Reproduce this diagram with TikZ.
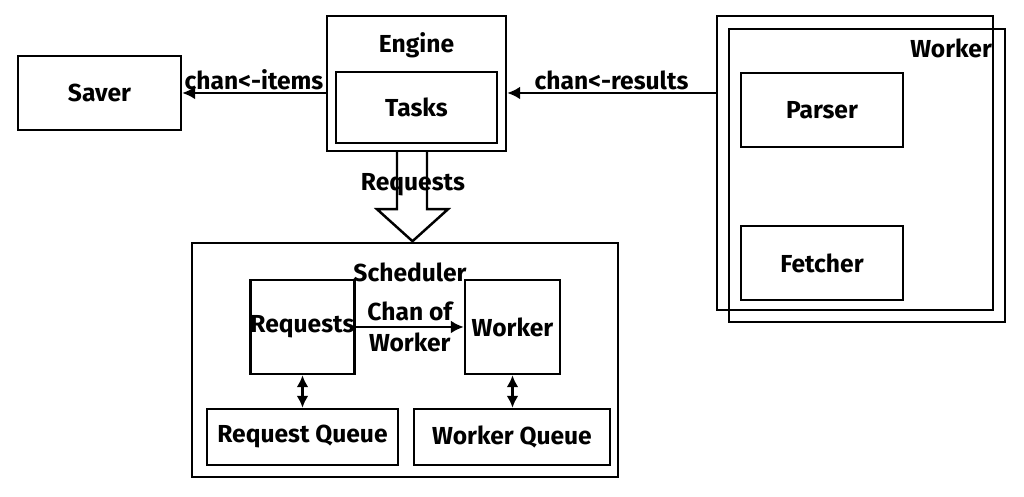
\documentclass[tikz,border=0pt]{standalone}
\usepackage{fontspec}
\setmainfont{Fira Sans}
\usetikzlibrary{arrows.meta, calc}

\begin{document}
\begin{tikzpicture}[
  box/.style={draw, line width=1.4pt, inner sep=0pt, font=\fontsize{14}{18}\selectfont\bfseries},
  lbl/.style={inner sep=1pt, font=\fontsize{14}{18}\selectfont\bfseries, align=center},
  arr/.style={-{Latex[length=2.6mm,width=2.6mm]}, line width=1.4pt},
  biarr/.style={{Latex[length=2.4mm,width=2.4mm]}-{Latex[length=2.4mm,width=2.4mm]}, line width=1.4pt},
  fat/.style={draw, line width=1.4pt, line join=miter}
]
\useasboundingbox (0,0) rectangle (20.48,9.94);
% engine and saver
\node[box, minimum width=3.58cm, minimum height=2.7cm] (engine) at (8.33,8.27) {};
\node[lbl] (enginelbl) at (8.33,9.04) {Engine};
\node[box, minimum width=3.22cm, minimum height=1.42cm] (tasks) at (8.33,7.79) {Tasks};
\node[box, minimum width=3.26cm, minimum height=1.48cm] (saver) at (1.99,8.08) {Saver};
% worker pool
\node[box, minimum width=5.52cm, minimum height=5.88cm] (wback) at (17.10,6.68) {};
\node[box, minimum width=5.52cm, minimum height=5.86cm] (wfront) at (17.34,6.43) {};
\node[lbl, anchor=east] (wlbl) at (19.88,8.98) {Worker};
\node[box, minimum width=3.24cm, minimum height=1.48cm] (parser) at (16.44,7.74) {Parser};
\node[box, minimum width=3.24cm, minimum height=1.48cm] (fetcher) at (16.44,4.68) {Fetcher};
% scheduler
\node[box, minimum width=8.52cm, minimum height=4.68cm] (sched) at (8.10,2.74) {};
\node[lbl] (schedlbl) at (8.20,4.50) {Scheduler};
\node[box, minimum width=2.06cm, minimum height=1.88cm] (reqs) at (6.05,3.40) {Requests};
\node[box, minimum width=1.90cm, minimum height=1.88cm] (wrk) at (10.25,3.40) {Worker};
\node[box, minimum width=3.82cm, minimum height=1.12cm] (reqq) at (6.05,1.20) {Request Queue};
\node[box, minimum width=3.92cm, minimum height=1.12cm] (wrkq) at (10.24,1.20) {Worker Queue};

\draw[arr] (engine.west |- saver) -- node[lbl, above] {chan<-items} (saver.east);
\draw[arr] (wback.west |- saver) -- node[lbl, above] {chan<-results} (engine.east |- saver);
\draw[arr] (reqs) -- node[lbl] {Chan of\\Worker} (wrk);
\draw[biarr] (reqs) -- (reqs |- reqq.north);
\draw[biarr] (wrk) -- (wrk |- wrkq.north);

% fat requests arrow
\path[fat] ($(engine.south)+(-0.39,0)$) -- ++(0,-1.14) -- ++(-0.40,0)
  -- ($(engine.south)+(-0.08,-1.78)$) -- ++(0.71,0.64) -- ++(-0.42,0)
  -- ($(engine.south)+(0.21,0)$);
\node[lbl] (reqlbl) at (8.26,6.24) {Requests};
\end{tikzpicture}
\end{document}
